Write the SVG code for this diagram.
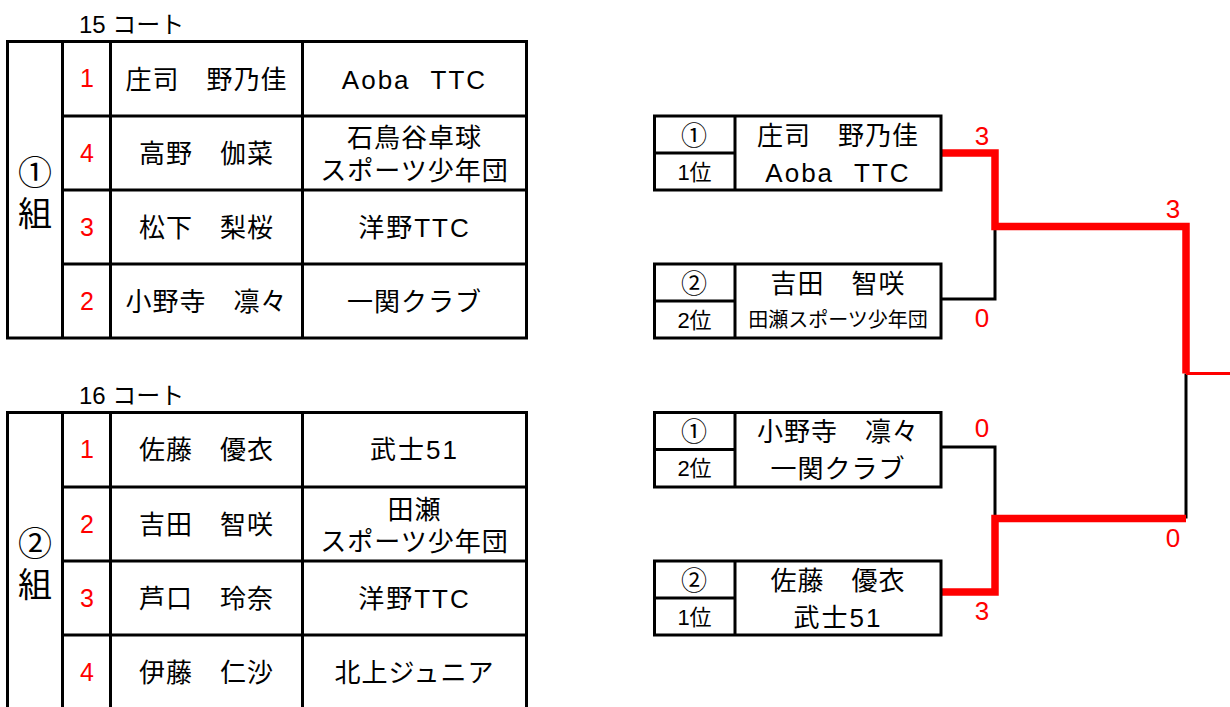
<svg xmlns="http://www.w3.org/2000/svg" width="1230" height="707" viewBox="0 0 1230 707">
<style>
text { font-family: "Liberation Sans", "Noto Sans CJK JP", sans-serif; text-anchor: middle; fill: #000; }
.n { font-size: 26px; letter-spacing: 1px; }
.l { letter-spacing: 2px; }
.g { font-size: 34px; }
.c { font-size: 24px; text-anchor: start; }
.r { font-size: 25px; fill: #ff0000; }
.s { font-size: 26px; fill: #ff0000; }
.p { font-size: 22px; }
.sm { font-size: 20px; }
.ln { stroke: #000; stroke-width: 3; fill: none; }
.red { stroke: #ff0000; stroke-width: 7.5; fill: none; stroke-linejoin: miter; }
</style>
<rect width="1230" height="707" fill="#fff"/>

<g id="table1">
  <text class="c" x="79" y="33">15 コート</text>
  <rect class="ln" x="7.5" y="41.5" width="519" height="296.5"/>
  <path class="ln" d="M62.5,41.5V338 M110.5,41.5V338 M302.5,41.5V338 M62.5,116H526.5 M62.5,190H526.5 M62.5,264H526.5"/>
  <text class="g" x="35" y="185">①</text>
  <text class="g" x="35" y="226">組</text>
  <text class="r" x="87" y="87">1</text>
  <text class="r" x="87" y="161.5">4</text>
  <text class="r" x="87" y="235.5">3</text>
  <text class="r" x="87" y="309.5">2</text>
  <text class="n" x="206.5" y="88.5">庄司　野乃佳</text>
  <text class="n" x="206.5" y="163">高野　伽菜</text>
  <text class="n" x="206.5" y="237">松下　梨桜</text>
  <text class="n" x="206.5" y="311">小野寺　凛々</text>
  <text class="n l" x="414.5" y="88.5">Aoba<tspan dx="-8">　</tspan>TTC</text>
  <text class="n" x="414.5" y="147">石鳥谷卓球</text>
  <text class="n" x="414.5" y="180">スポーツ少年団</text>
  <text class="n l" x="414.5" y="237">洋野TTC</text>
  <text class="n" x="414.5" y="311">一関クラブ</text>
</g>

<g id="table2">
  <text class="c" x="79" y="404">16 コート</text>
  <path class="ln" d="M7.5,412.5H526.5 M7.5,411V710 M62.5,412.5V710 M110.5,412.5V710 M302.5,412.5V710 M526.5,411V710 M62.5,487H526.5 M62.5,561H526.5 M62.5,635H526.5"/>
  <text class="g" x="35" y="556">②</text>
  <text class="g" x="35" y="597">組</text>
  <text class="r" x="87" y="458">1</text>
  <text class="r" x="87" y="532.5">2</text>
  <text class="r" x="87" y="606.5">3</text>
  <text class="r" x="87" y="680.5">4</text>
  <text class="n" x="206.5" y="459">佐藤　優衣</text>
  <text class="n" x="206.5" y="533.5">吉田　智咲</text>
  <text class="n" x="206.5" y="607.5">芦口　玲奈</text>
  <text class="n" x="206.5" y="681.5">伊藤　仁沙</text>
  <text class="n l" x="414.5" y="459">武士51</text>
  <text class="n" x="414.5" y="519">田瀬</text>
  <text class="n" x="414.5" y="551">スポーツ少年団</text>
  <text class="n l" x="414.5" y="607.5">洋野TTC</text>
  <text class="n" x="414.5" y="681.5">北上ジュニア</text>
</g>

<g id="connectors">
  <path class="ln" d="M941,299H995V226.5"/>
  <path class="ln" d="M941,447H995V518.5"/>
  <path class="ln" d="M1186,373.5V518.5"/>
  <path class="red" d="M941,153H995V226.5H1186V373.5"/>
  <path class="red" d="M941,592H995V518.5H1186"/>
  <path stroke="#ff0000" stroke-width="3" fill="none" d="M1186,373.5H1230"/>
  <text class="s" x="982" y="145">3</text>
  <text class="s" x="982" y="327">0</text>
  <text class="s" x="982" y="437">0</text>
  <text class="s" x="982" y="620">3</text>
  <text class="s" x="1173" y="218">3</text>
  <text class="s" x="1173" y="547">0</text>
</g>

<g id="box1">
  <rect class="ln" x="654.5" y="116" width="286.5" height="74"/>
  <path class="ln" d="M735,116V190 M654.5,153H735"/>
  <text class="n" x="694.5" y="144.5">①</text>
  <text class="p" x="694.5" y="179.5">1位</text>
  <text class="n" x="838" y="144.5">庄司　野乃佳</text>
  <text class="n l" x="838" y="181.5">Aoba<tspan dx="-8">　</tspan>TTC</text>
</g>

<g id="box2">
  <rect class="ln" x="654.5" y="264" width="286.5" height="74"/>
  <path class="ln" d="M735,264V338 M654.5,301H735"/>
  <text class="n" x="694.5" y="292.5">②</text>
  <text class="p" x="694.5" y="327.5">2位</text>
  <text class="n" x="838" y="292.5">吉田　智咲</text>
  <text class="sm" x="838" y="327">田瀬スポーツ少年団</text>
</g>

<g id="box3">
  <rect class="ln" x="654.5" y="412.5" width="286.5" height="74.5"/>
  <path class="ln" d="M735,412.5V487 M654.5,449.5H735"/>
  <text class="n" x="694.5" y="441">①</text>
  <text class="p" x="694.5" y="476">2位</text>
  <text class="n" x="838" y="441">小野寺　凛々</text>
  <text class="n" x="838" y="478">一関クラブ</text>
</g>

<g id="box4">
  <rect class="ln" x="654.5" y="561" width="286.5" height="74"/>
  <path class="ln" d="M735,561V635 M654.5,598H735"/>
  <text class="n" x="694.5" y="589.5">②</text>
  <text class="p" x="694.5" y="624.5">1位</text>
  <text class="n" x="838" y="589.5">佐藤　優衣</text>
  <text class="n l" x="838" y="626.5">武士51</text>
</g>
</svg>
